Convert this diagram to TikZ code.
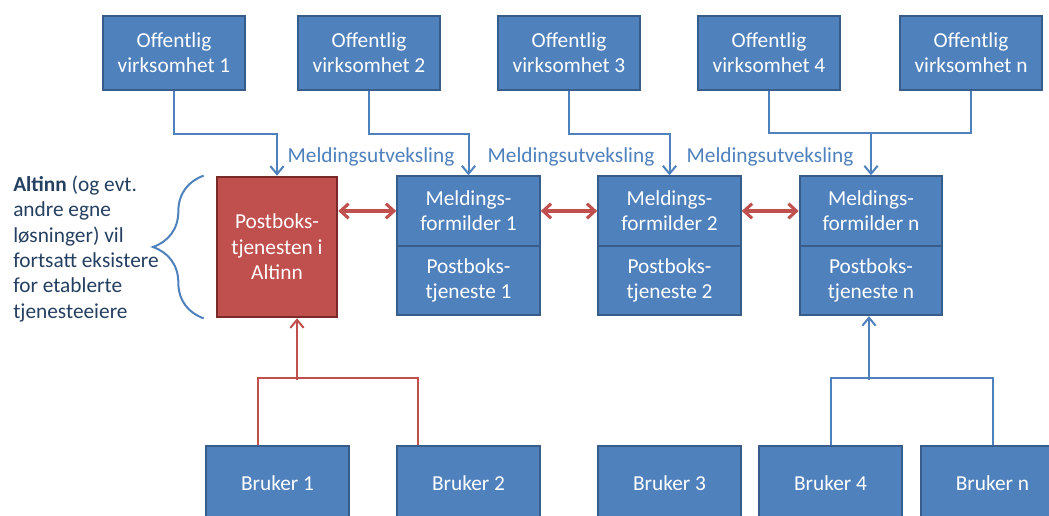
\documentclass[tikz,border=0pt]{standalone}
\usepackage{fontspec}
\setmainfont{Carlito}
\usepackage{tikz}
\usetikzlibrary{arrows.meta,decorations.pathreplacing}

\definecolor{boxblue}{HTML}{4F81BD}
\definecolor{edgeblue}{HTML}{385D8A}
\definecolor{boxred}{HTML}{C0504D}
\definecolor{edgered}{HTML}{7A2A28}
\definecolor{navytext}{HTML}{243F60}

\begin{document}
\begin{tikzpicture}[x=0.75pt,y=-0.75pt,
    font=\fontsize{16}{19}\selectfont,
    unitbox/.style={draw=edgeblue, fill=boxblue, line width=1.5pt, text=white, align=center,
      minimum width=107pt, minimum height=55pt, inner sep=2pt},
    halfbox/.style={unitbox, minimum height=52pt},
    altbox/.style={draw=edgered, fill=boxred, line width=2pt, text=white, align=center,
      minimum width=90pt, minimum height=105pt},
    bluelink/.style={draw=boxblue, line width=1.5pt},
    redlink/.style={draw=boxred, line width=1.5pt},
    arrowto/.style={-{Straight Barb[length=6pt,width=10pt]}},
    dbl/.style={line width=2.3pt, {Straight Barb[length=6pt,width=11pt]}-{Straight Barb[length=6pt,width=11pt]}},
    msglabel/.style={text=boxblue, inner sep=0pt}]
    \useasboundingbox (0,0) rectangle (1049,516);
    \clip (0,0) rectangle (1049,516);

    % Offentlige virksomheter
    \node[unitbox] (v1) at (174,53) {Offentlig\\virksomhet 1};
    \node[unitbox] (v2) at (369,53) {Offentlig\\virksomhet 2};
    \node[unitbox] (v3) at (569,53) {Offentlig\\virksomhet 3};
    \node[unitbox] (v4) at (769,53) {Offentlig\\virksomhet 4};
    \node[unitbox] (vn) at (971,53) {Offentlig\\virksomhet n};

    % Postboks i Altinn
    \node[altbox] (alt) at (277,247) {Postboks-\\tjenesten i\\Altinn};

    % Meldingsformidlere
    \node[halfbox] (m1) at (468.5,211) {Meldings-\\formilder 1};
    \node[halfbox] (p1) at (468.5,280.5) {Postboks-\\tjeneste 1};
    \node[halfbox] (m2) at (669.5,211) {Meldings-\\formilder 2};
    \node[halfbox] (p2) at (669.5,280.5) {Postboks-\\tjeneste 2};
    \node[halfbox] (mn) at (871,211) {Meldings-\\formilder n};
    \node[halfbox] (pn) at (871,280.5) {Postboks-\\tjeneste n};

    % Brukere
    \node[unitbox] (b1) at (277.5,483) {Bruker 1};
    \node[unitbox] (b2) at (468.5,483) {Bruker 2};
    \node[unitbox] (b3) at (669.5,483) {Bruker 3};
    \node[unitbox] (b4) at (830.5,483) {Bruker 4};
    \node[unitbox] (bn) at (992.5,483) {Bruker n};

    % Meldingsutveksling
    \draw[bluelink,arrowto] (v1.south) -- ++(0,43) -| (alt.north);
    \draw[bluelink,arrowto] (v2.south) -- ++(0,43) -| (m1.north);
    \draw[bluelink,arrowto] (v3.south) -- ++(0,43) -| (m2.north);
    \coordinate (busn) at (871,133);
    \draw[bluelink,arrowto] (v4.south) |- (busn) -- (mn.north);
    \draw[bluelink] (vn.south) |- (busn);
    \node[msglabel] (lab1) at (371,157) {Meldingsutveksling};
    \node[msglabel] (lab2) at (571,157) {Meldingsutveksling};
    \node[msglabel] (lab3) at (770,157) {Meldingsutveksling};

    % Red double arrows
    \draw[redlink,dbl] (alt.east |- m1.west) -- (m1.west);
    \draw[redlink,dbl] (m1.east) -- (m2.west);
    \draw[redlink,dbl] (m2.east) -- (mn.west);

    % Brukere til postbokser
    \draw[redlink] ([xshift=-15pt]b1.north) -- ++(0,-67) -| ([xshift=-38pt]b2.north);
    \coordinate (rjoin) at (297,380);
    \draw[redlink,arrowto] (rjoin) -- (rjoin |- alt.south);
    \draw[bluelink] (b4.north) -- ++(0,-67) -| (bn.north);
    \coordinate (bjoin) at (869,380);
    \draw[bluelink,arrowto] (bjoin) -- (bjoin |- pn.south);

    % Note
    \draw[bluelink, decorate, decoration={brace, amplitude=38pt}]
      ([xshift=-9pt]alt.south west) -- ([xshift=-9pt]alt.north west);
    \node[text=navytext, align=left, inner sep=0pt, anchor=west] (note) at (13,249)
      {\textbf{Altinn} (og evt.\\andre egne\\løsninger) vil\\fortsatt eksistere\\for etablerte\\tjenesteeiere};
  \end{tikzpicture}
\end{document}
